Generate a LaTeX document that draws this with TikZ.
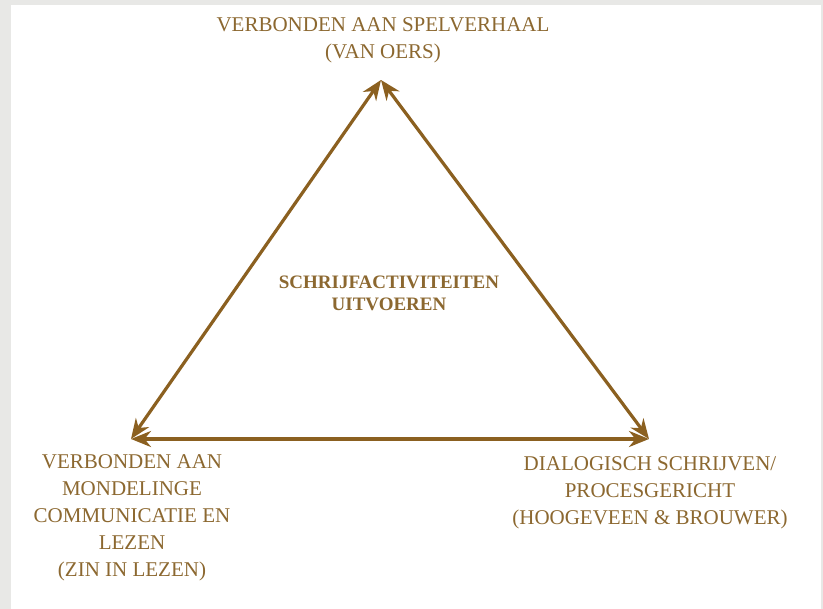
\documentclass[tikz,border=0pt]{standalone}
\usepackage{fontspec}
\setmainfont{Liberation Serif}
\usepackage{tikz}
\usetikzlibrary{arrows.meta, positioning}

\definecolor{bruin}{RGB}{139,96,32}
\definecolor{tekstbruin}{RGB}{140,104,48}
\definecolor{rand}{RGB}{232,232,230}

\begin{document}
\begin{tikzpicture}[x=1pt, y=-1pt,
      pijl/.style={{Stealth[length=20pt, width=16pt]}-{Stealth[length=20pt, width=16pt]},
                   line width=3.2pt, draw=bruin},
      lbl/.style={align=center, text=tekstbruin, inner sep=0pt,
                  font=\fontsize{21}{27}\selectfont},
      kern/.style={align=center, text=tekstbruin, inner sep=0pt,
                   font=\fontsize{19}{22}\selectfont\bfseries}]

    % === achtergrond ===
    \useasboundingbox (0,0) rectangle (823,609);
    \fill[rand] (0,0) rectangle (823,609);
    \fill[white] (11,5) rectangle (821,609);

    % === hoekpunten ===
    \coordinate (boven) at (381,80);
    \coordinate (links) at (131,439);
    \coordinate (rechts) at (649,439);

    % === teksten ===
    \node[lbl] (spel) at (383,40) {VERBONDEN AAN SPELVERHAAL\\(VAN OERS)};
    \node[kern] (midden) at (389,293) {SCHRIJFACTIVITEITEN\\UITVOEREN};
    \node[lbl] (mondeling) at (132,518)
        {VERBONDEN AAN\\MONDELINGE\\COMMUNICATIE EN\\LEZEN\\(ZIN IN LEZEN)};
    \node[lbl] (dialoog) at (650,493)
        {DIALOGISCH SCHRIJVEN/\\PROCESGERICHT\\(HOOGEVEEN \& BROUWER)};

    % === driehoek ===
    \draw[pijl] (boven) -- (links);
    \draw[pijl] (boven) -- (rechts);
    \draw[pijl] (links) -- (rechts);

\end{tikzpicture}
\end{document}
